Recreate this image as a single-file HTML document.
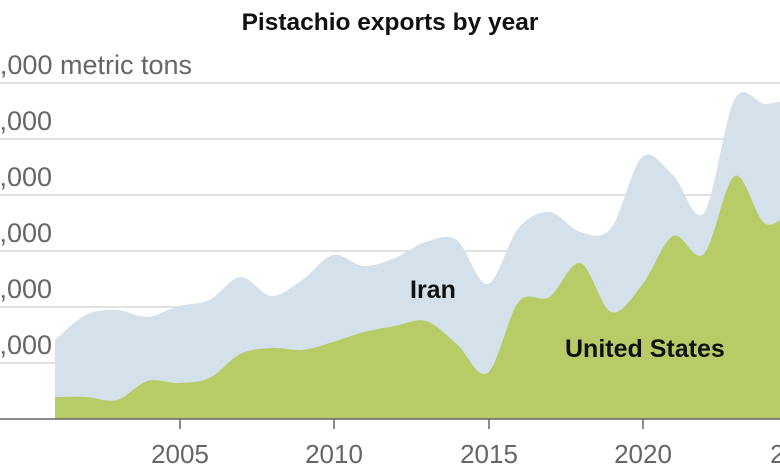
<!DOCTYPE html>
<html><head><meta charset="utf-8"><style>
body{margin:0;width:780px;height:470px;background:#fff;overflow:hidden;font-family:"Liberation Sans",sans-serif}
</style></head><body>
<svg id="s" width="780" height="470" xmlns="http://www.w3.org/2000/svg">
<text x="390" y="30" text-anchor="middle" font-family="Liberation Sans" font-weight="bold" font-size="24.5" fill="#111">Pistachio exports by year</text>
<g stroke="#e2e2e2" stroke-width="2">
<line x1="0" y1="83" x2="780" y2="83"/><line x1="0" y1="139" x2="780" y2="139"/><line x1="0" y1="195" x2="780" y2="195"/>
<line x1="0" y1="251" x2="780" y2="251"/><line x1="0" y1="307" x2="780" y2="307"/><line x1="0" y1="363" x2="780" y2="363"/>
</g>
<path id="top" fill="#d4e0ea"/>
<path id="us" fill="#b7cb67"/>
<line x1="0" y1="419" x2="780" y2="419" stroke="#666" stroke-width="1.5"/>
<g stroke="#666" stroke-width="1.5"><line x1="180" y1="419" x2="180" y2="429"/><line x1="334" y1="419" x2="334" y2="429"/><line x1="489" y1="419" x2="489" y2="429"/><line x1="643" y1="419" x2="643" y2="429"/></g>
<g font-size="26" fill="#666" font-family="Liberation Sans">
<text x="180" y="463" text-anchor="middle">2005</text><text x="334" y="463" text-anchor="middle">2010</text>
<text x="489" y="463" text-anchor="middle">2015</text><text x="643" y="463" text-anchor="middle">2020</text><text x="799" y="463" text-anchor="middle">2025</text>
</g>
<g font-size="27" fill="#666" font-family="Liberation Sans">
<text x="192" y="74" text-anchor="end">120,000 metric tons</text>
<text x="52" y="130" text-anchor="end">100,000</text><text x="52" y="186" text-anchor="end">80,000</text>
<text x="52" y="242" text-anchor="end">60,000</text><text x="52" y="298" text-anchor="end">40,000</text><text x="52" y="354" text-anchor="end">20,000</text>
</g>
<g font-family="Liberation Sans" font-weight="bold" font-size="25" fill="#111">
<text x="410" y="298">Iran</text><text x="565" y="357">United States</text></g>
</svg>
<script>
var T=[340,315,310,317,306,300,277,296,280,255,266,258,242,240,284,228,212,232,228,157,175,213,99,104,97];
var U=[397,397,400,381,383,378,354,348,350,342,332,326,321,344,373,302,297,263,312,285,236,254,176,224,205];
function X(i){return 55+i*30.9;}
function curve(a){var p=a.map(function(y,i){return [X(i),y]});var d="M"+p[0][0]+","+p[0][1];
for(var i=0;i<p.length-1;i++){var p0=p[i-1]||p[i],p1=p[i],p2=p[i+1],p3=p[i+2]||p2;
var c1=[p1[0]+(p2[0]-p0[0])/6,p1[1]+(p2[1]-p0[1])/6],c2=[p2[0]-(p3[0]-p1[0])/6,p2[1]-(p3[1]-p1[1])/6];
d+="C"+c1+" "+c2+" "+p2;}return d;}
function area(a){return "M55,419L"+curve(a).slice(1)+"L"+X(a.length-1)+",419Z";}
document.getElementById("top").setAttribute("d",area(T));
document.getElementById("us").setAttribute("d",area(U));
</script>
</body></html>
